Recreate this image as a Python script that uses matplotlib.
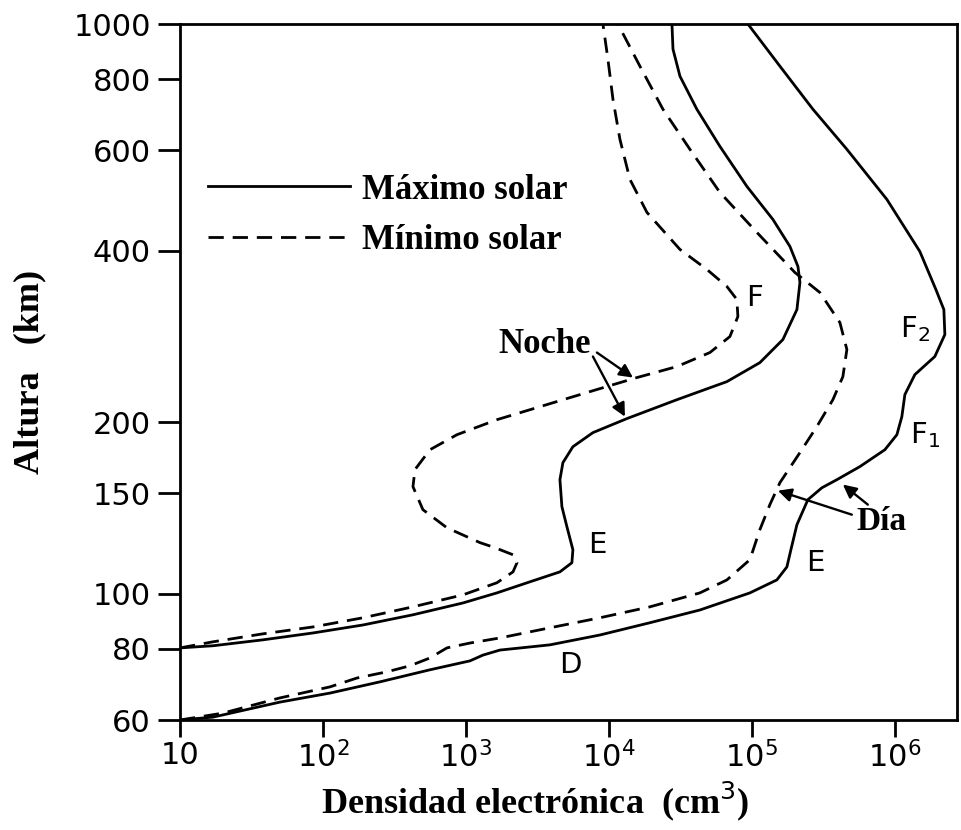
import matplotlib
matplotlib.use("Agg")
import matplotlib.pyplot as plt
from matplotlib.lines import Line2D

# ---------------- data (altitude km, electron density) ----------------
day_max_alt = [60, 60.7, 64.5, 66.9, 70.0, 73.5, 76.2, 78.0, 79.6, 81.3, 84.6, 88.9, 93.6,
               100.3, 105.7, 111.4, 119.4, 132.1, 146.2, 153.4, 158.5, 167.1, 178.9, 190.1,
               204.5, 223.6, 242.4, 260.8, 285.0, 315.3, 342.0, 398.7, 492.1, 602.6, 708.6,
               843.3, 1000]
day_max_den = [10, 17, 50, 112, 250, 560, 1067, 1315, 1729, 3868, 8650, 19350, 43290,
               96830, 149500, 175700, 187400, 206400, 246400, 308700, 393000, 569100, 851300,
               1033000, 1119000, 1175000, 1380000, 1904000, 2237000, 2201000, 1935000,
               1495000, 879300, 461700, 267100, 157000, 93760]

day_min_alt = [60, 61.7, 65.6, 68.6, 71.1, 72.9, 74.7, 77.1, 80.3, 81.9, 83.6, 87.1, 90.7,
               94.8, 100.3, 105.7, 114.7, 129.5, 143.3, 156.6, 176.8, 196.5, 219.0, 240.4,
               268.3, 299.2, 337.8, 366.3, 430.6, 506.3, 602.6, 708.6, 843.3, 1000]
day_min_den = [10, 20, 50, 112, 173, 280, 406, 560, 736, 1067, 1729, 3868, 8650,
               19350, 43290, 66870, 96830, 113700, 133600, 157000, 216600, 284800, 368500,
               432900, 461700, 412500, 298900, 199800, 108400, 59700, 36850, 23860, 16470, 11560]

night_max_alt = [80.3, 81.0, 82.96, 85.3, 88.1, 91.8, 96.3, 100.3, 104.9, 109.2, 113.3, 119.4,
                 131.1, 142.1, 158.5, 169.8, 181.1, 191.7, 202.9, 219.0, 235.6, 254.4, 279.3,
                 315.3, 351.8, 375.3, 406.9, 453.8, 518.6, 609.9, 708.6, 809.6, 903.2, 1000]
night_max_den = [10, 17, 38, 85.1, 190.5, 426, 953, 1647, 2805, 4543, 5508, 5598,
                 5082, 4690, 4543, 4766, 5598, 7727, 13360, 29900, 66850, 113700, 164800,
                 206500, 216800, 209900, 184500, 140300, 92300, 59700, 41200, 31400, 28060, 27600]

night_min_alt = [80.3, 82.3, 85.0, 87.4, 90.7, 94.8, 99.5, 104.5, 109.2, 113.3, 117.0, 120.4,
                 122.9, 130.5, 140.4, 154.1, 165.1, 178.9, 190.1, 202.0, 214.7, 228.2, 239.5,
                 250.4, 265.0, 282.7, 306.6, 328.4, 346.1, 370.8, 402.0, 466.9, 533.5, 627.4,
                 737.8, 867.5, 1000]
night_min_den = [10, 17, 38, 85.1, 190.5, 426, 953, 1647, 2134, 2275, 2134, 1596,
                 1253, 736, 500, 426, 440, 560, 865, 1647, 3681, 8240, 15700,
                 29900, 50850, 70200, 79800, 78500, 66850, 48420, 31400, 18450, 14030, 11940,
                 10670, 9840, 9080]

x_ticks = [10, 1e2, 1e3, 1e4, 1e5, 1e6]
x_tick_labels = ["10", r"$10^{2}$", r"$10^{3}$", r"$10^{4}$", r"$10^{5}$", r"$10^{6}$"]
y_ticks = [60, 80, 100, 150, 200, 400, 600, 800, 1000]
y_tick_labels = ["60", "80", "100", "150", "200", "400", "600", "800", "1000"]

# ---------------- figure ----------------
plt.rcParams["mathtext.fontset"] = "dejavusans"
fig = plt.figure(figsize=(9.61, 8.30), dpi=100)
ax = fig.add_axes([180 / 961, 110 / 830, 777 / 961, 696 / 830])

lw = 2.0
dash = (0, (5.5, 3.2))
ax.plot(day_max_den, day_max_alt, color="black", lw=lw, solid_capstyle="round",
        solid_joinstyle="round")
ax.plot(night_max_den, night_max_alt, color="black", lw=lw, solid_capstyle="round",
        solid_joinstyle="round")
ax.plot(day_min_den, day_min_alt, color="black", lw=lw, linestyle=dash)
ax.plot(night_min_den, night_min_alt, color="black", lw=lw, linestyle=dash)

ax.set_xscale("log")
ax.set_yscale("log")
ax.set_xlim(10, 2.72e6)
ax.set_ylim(60, 1000)
ax.set_xticks(x_ticks)
ax.set_xticklabels(x_tick_labels)
ax.set_yticks(y_ticks)
ax.set_yticklabels(y_tick_labels)
ax.minorticks_off()
ax.tick_params(axis="both", direction="out", width=2, labelsize=22)
ax.tick_params(axis="y", length=16, pad=5)
ax.tick_params(axis="x", length=12, pad=3)
for s in ax.spines.values():
    s.set_linewidth(2)

serif = "Liberation Serif"
ax.set_xlabel("Densidad electrónica  (cm$^{3}$)", fontsize=26, fontweight="bold",
              family=serif)
ax.xaxis.set_label_coords(0.457, -0.086)
ax.set_ylabel("Altura   (km)", fontsize=26, fontweight="bold", family=serif)
ax.yaxis.set_label_coords(-0.172, 0.5)

# legend
handles = [Line2D([], [], color="black", lw=lw),
           Line2D([], [], color="black", lw=lw, linestyle=dash)]
leg = ax.legend(handles, ["Máximo solar", "Mínimo solar"], loc="upper left",
                bbox_to_anchor=(0.036, 0.785), frameon=False, handlelength=4.1,
                handletextpad=0.35, labelspacing=0.5, borderpad=0, borderaxespad=0,
                prop={"family": serif, "weight": "bold", "size": 25})

# region labels
lab = dict(fontsize=21, ha="center", va="center")
ax.text(105000, 331, "F", **lab)
ax.text(8240, 121.8, "E", **lab)
ax.text(275800, 113.3, "E", **lab)
ax.text(5335, 75.0, "D", **lab)
ax.text(1.38e6, 290.8, r"F$_2$", **lab)
ax.text(1.62e6, 190, r"F$_1$", **lab)

bold = dict(fontweight="bold", family=serif, ha="center", va="center")
ax.text(3568, 274, "Noche", fontsize=25, **bold)
ax.text(811000, 133.7, "Día", fontsize=24, **bold)

arr = dict(arrowstyle="-|>", color="black", lw=1.7, mutation_scale=20,
           shrinkA=0, shrinkB=0)
ax.annotate("", xy=(14720, 239.5), xytext=(8240, 265), arrowprops=arr)
ax.annotate("", xy=(12940, 204.5), xytext=(7727, 260.8), arrowprops=arr)
ax.annotate("", xy=(152000, 151.6), xytext=(500000, 137.6), arrowprops=arr)
ax.annotate("", xy=(432900, 155.4), xytext=(647000, 143.3), arrowprops=arr)

fig.savefig("out.png", dpi=100)
